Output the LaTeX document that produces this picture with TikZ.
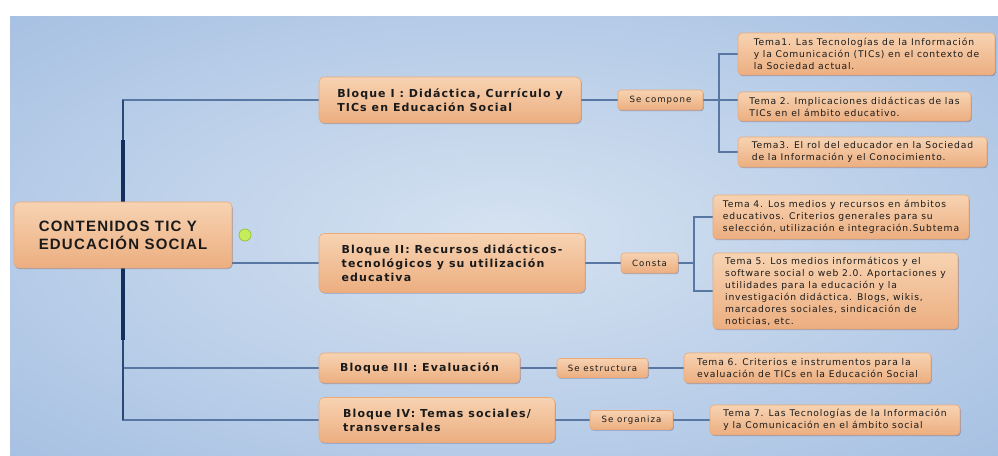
\documentclass[tikz,border=0pt]{standalone}
\usepackage{fontspec}
\setmainfont{DejaVu Sans}
\newfontfamily\rootfont[LetterSpace=8]{Liberation Sans}
\newfontfamily\blqfont[LetterSpace=10]{DejaVu Sans}
\newfontfamily\temafont[LetterSpace=9]{DejaVu Sans}
\newfontfamily\lblfont[LetterSpace=12]{DejaVu Sans}
\usetikzlibrary{shadows}
\definecolor{bgin}{HTML}{D5E2F1}
\definecolor{bgout}{HTML}{9FBBE0}
\definecolor{boxtop}{HTML}{F7D3B2}
\definecolor{boxbot}{HTML}{ECAE80}
\definecolor{boxedge}{HTML}{EBAA78}
\definecolor{linec}{HTML}{5878A3}
\definecolor{trunkc}{HTML}{2A4775}
\definecolor{trunkd}{HTML}{132F5C}
\definecolor{txt}{HTML}{1A1A1A}
\definecolor{dotfill}{HTML}{C6EE5A}
\definecolor{dotedge}{HTML}{9CC23A}
\pgfdeclareradialshading{bgshade}{\pgfpoint{0bp}{0bp}}{color(0bp)=(bgin); color(42bp)=(bgout); color(100bp)=(bgout)}
\pgfdeclarelayer{bg}
\pgfsetlayers{bg,main}
\begin{document}
\begin{tikzpicture}[x=1pt,y=-1pt,
  box/.style={rounded corners=5pt, draw=boxedge, line width=0.6pt,
    top color=boxtop, bottom color=boxbot, text=txt,
    drop shadow={shadow xshift=0.8pt, shadow yshift=-1.2pt, opacity=0.25, fill=black!70!blue},
    inner xsep=0pt, inner ysep=0pt, align=left, anchor=center},
  rootbox/.style={box, font=\rootfont\bfseries\fontsize{15}{18}\selectfont},
  blqbox/.style={box, font=\blqfont\bfseries\fontsize{11}{14}\selectfont},
  temabox/.style={box, rounded corners=4pt, font=\temafont\fontsize{9.2}{12}\selectfont},
  lblbox/.style={box, rounded corners=3pt, font=\lblfont\fontsize{8.6}{10}\selectfont},
  conn/.style={draw=linec, line width=2pt},
  trunk/.style={draw=trunkc, line width=2.2pt},
  trunkthick/.style={draw=trunkd, line width=3.4pt}
]
\useasboundingbox (0,0) rectangle (998,455);
% nodes
\node[rootbox, minimum width=218, minimum height=66] (root) at (123,235) {CONTENIDOS TIC Y\\EDUCACIÓN SOCIAL};
\node[circle, minimum size=12, inner sep=0pt, fill=dotfill, draw=dotedge, line width=0.8pt] (dot) at (245,235) {};
\node[blqbox, minimum width=262, minimum height=46] (b1) at (450,100) {Bloque I : Didáctica, Currículo y\\TICs en Educación Social};
\node[blqbox, minimum width=266, minimum height=59] (b2) at (452,263) {Bloque II: Recursos didácticos-\\tecnológicos y su utilización\\educativa};
\node[blqbox, minimum width=201, minimum height=30] (b3) at (419.5,368) {Bloque III : Evaluación};
\node[blqbox, minimum width=236, minimum height=45] (b4) at (437,420) {Bloque IV: Temas sociales/\\transversales};
\node[lblbox, minimum width=85, minimum height=20] (sc) at (660.5,100) {Se compone};
\node[lblbox, minimum width=57, minimum height=20] (consta) at (649.5,263) {Consta};
\node[lblbox, minimum width=91, minimum height=19] (sest) at (602.5,368) {Se estructura};
\node[lblbox, minimum width=83, minimum height=19] (sorg) at (631.5,420) {Se organiza};
\node[temabox, minimum width=257, minimum height=42] (t1) at (866.5,54) {Tema1. Las Tecnologías de la Información\\y la Comunicación (TICs) en el contexto de\\la Sociedad actual.};
\node[temabox, minimum width=233, minimum height=29] (t2) at (854.5,106.5) {Tema 2. Implicaciones didácticas de las\\TICs en el ámbito educativo.};
\node[temabox, minimum width=249, minimum height=30] (t3) at (862.5,152) {Tema3. El rol del educador en la Sociedad\\de la Información y el Conocimiento.};
\node[temabox, minimum width=256, minimum height=44] (t4) at (841,217) {Tema 4. Los medios y recursos en ámbitos\\educativos. Criterios generales para su\\selección, utilización e integración.Subtema};
\node[temabox, minimum width=245, minimum height=76] (t5) at (835.5,291) {Tema 5. Los medios informáticos y el\\software social o web 2.0. Aportaciones y\\utilidades para la educación y la\\investigación didáctica. Blogs, wikis,\\marcadores sociales, sindicación de\\noticias, etc.};
\node[temabox, minimum width=247, minimum height=30] (t6) at (807.5,368) {Tema 6. Criterios e instrumentos para la\\evaluación de TICs en la Educación Social};
\node[temabox, minimum width=250, minimum height=30] (t7) at (835,420) {Tema 7. Las Tecnologías de la Información\\y la Comunicación en el ámbito social};
\coordinate (br1) at (719,100);
\coordinate (br2) at (694,263);
\begin{pgfonlayer}{bg}
  \fill[shading=bgshade] (10,16) rectangle (998,455);
  \draw[conn] (root.north) |- (b1.west);
  \draw[conn] (root.south) |- (b3.west);
  \draw[conn] (root.south) |- (b4.west);
  \draw[conn] (b2.west -| root.east) -- (b2.west);
  \draw[trunk] (root.north) -- (root.north |- b1.west);
  \draw[trunk] (root.south) -- (root.south |- b4.west);
  \draw[trunkthick] (root.north) -- ++(0,-62);
  \draw[trunkthick] (root.south) -- ++(0,72);
  \draw[conn] (b1.east) -- (sc.west);
  \draw[conn] (sc.east) -- (br1);
  \draw[conn] (br1) |- (t1.west);
  \draw[conn] (br1) |- (t3.west);
  \draw[conn] (br1) -- (br1 -| t2.west);
  \draw[conn] (b2.east) -- (consta.west);
  \draw[conn] (consta.east) -- (br2);
  \draw[conn] (br2) |- (t4.west);
  \draw[conn] (br2) |- (t5.west);
  \draw[conn] (b3.east) -- (sest.west);
  \draw[conn] (sest.east) -- (t6.west);
  \draw[conn] (b4.east) -- (sorg.west);
  \draw[conn] (sorg.east) -- (t7.west);
\end{pgfonlayer}
\end{tikzpicture}
\end{document}
